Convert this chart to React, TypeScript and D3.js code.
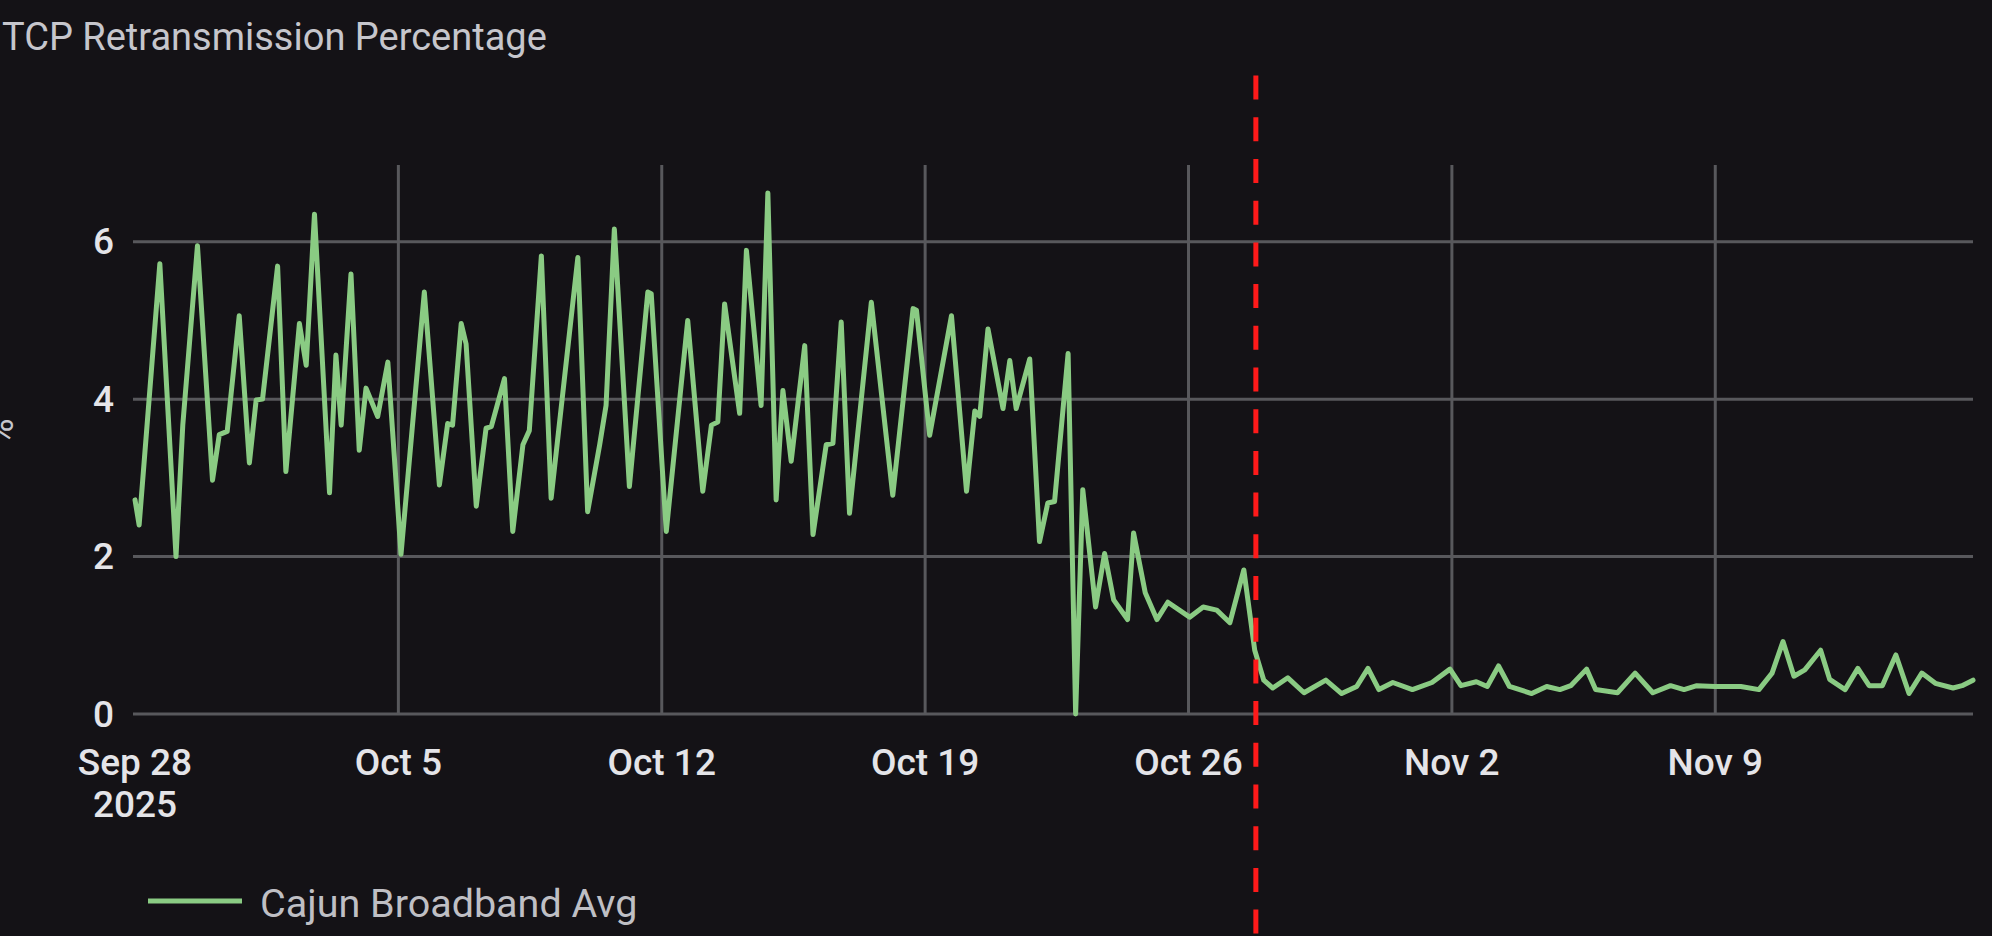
import React from "react";
import * as d3 from "d3";

// days since Sep 28 2025 00:00 at each visible vertex
const dayOffsets = [
  0, 0.11, 0.66, 1.09, 1.27, 1.66, 2.06, 2.24, 2.45, 2.77, 3.04, 3.22, 3.39, 3.79, 4.01, 4.37, 4.55, 4.77,
  5.17, 5.34, 5.48, 5.74, 5.96, 6.14, 6.45, 6.72, 7.07, 7.69, 8.09, 8.31, 8.44, 8.67, 8.8, 9.07, 9.33, 9.47,
  9.82, 10.04, 10.31, 10.48, 10.8, 11.06, 11.77, 12.03, 12.35, 12.52, 12.74, 13.14, 13.63, 13.72, 14.12,
  14.69, 15.09, 15.32, 15.49, 15.67, 16.07, 16.25, 16.64, 16.82, 17.04, 17.22, 17.44, 17.8, 18.02, 18.37,
  18.55, 18.77, 18.99, 19.57, 20.14, 20.68, 20.77, 21.12, 21.7, 22.1, 22.32, 22.45, 22.67, 23.07, 23.25,
  23.42, 23.78, 24.04, 24.26, 24.44, 24.8, 25.0, 25.19, 25.53, 25.77, 26.01, 26.38, 26.54, 26.85, 27.16,
  27.45, 28.03, 28.39, 28.75, 29.1, 29.47, 29.76, 30.0, 30.24, 30.64, 31.07, 31.65, 32.07, 32.47, 32.77,
  33.06, 33.43, 33.95, 34.47, 34.95, 35.24, 35.65, 35.94, 36.24, 36.53, 37.12, 37.52, 37.87, 38.16, 38.58,
  38.82, 39.4, 39.87, 40.34, 40.81, 41.17, 41.51, 41.99, 42.68, 43.16, 43.51, 43.8, 44.09, 44.38, 44.8,
  45.04, 45.45, 45.79, 46.09, 46.44, 46.8, 47.15, 47.49, 47.85, 48.32, 48.56, 48.85,
];

const retransPct = [
  2.72, 2.4, 5.72, 2.0, 3.67, 5.95, 2.97, 3.55, 3.59, 5.06, 3.19, 3.99, 4.0, 5.69, 3.08, 4.96, 4.43, 6.35,
  2.81, 4.56, 3.67, 5.59, 3.35, 4.14, 3.78, 4.47, 2.03, 5.36, 2.91, 3.69, 3.67, 4.96, 4.7, 2.64, 3.63, 3.65,
  4.26, 2.32, 3.42, 3.6, 5.82, 2.74, 5.8, 2.57, 3.42, 3.92, 6.16, 2.89, 5.36, 5.34, 2.32,
  5.0, 2.83, 3.67, 3.71, 5.21, 3.82, 5.89, 3.92, 6.62, 2.72, 4.11, 3.21, 4.68, 2.28, 3.42,
  3.44, 4.98, 2.55, 5.23, 2.78, 5.15, 5.13, 3.54, 5.06, 2.83, 3.85, 3.78, 4.89, 3.88, 4.49,
  3.88, 4.51, 2.19, 2.68, 2.7, 4.58, 0, 2.85, 1.36, 2.04, 1.45, 1.2, 2.3, 1.54, 1.2,
  1.42, 1.23, 1.36, 1.32, 1.16, 1.83, 0.81, 0.43, 0.33, 0.46, 0.27, 0.43, 0.26, 0.35, 0.58,
  0.31, 0.4, 0.31, 0.4, 0.57, 0.36, 0.41, 0.35, 0.61, 0.35, 0.26, 0.35, 0.31, 0.36, 0.57,
  0.31, 0.27, 0.52, 0.27, 0.36, 0.31, 0.36, 0.35, 0.35, 0.31, 0.52, 0.92, 0.48, 0.56, 0.81,
  0.44, 0.31, 0.58, 0.36, 0.36, 0.75, 0.26, 0.52, 0.39, 0.33, 0.36, 0.43,
];

const yTicks = [0, 2, 4, 6];
const seriesName = "Cajun Broadband Avg";
const chartTitle = "TCP Retransmission Percentage";
const markerDay = 29.79;

const W = 1992;
const H = 936;
const DAY = 86400000;
const start = new Date(2025, 8, 28);
const toDate = (d: number) => new Date(start.getTime() + d * DAY);

const bg = "#141216";
const grid = "#58585c";
const green = "#8acb83";
const font = "Roboto, 'Open Sans', sans-serif";

export default function App() {
  const x = d3
    .scaleTime()
    .domain([start, toDate(48.85)])
    .range([135, 1973]);
  const y = d3.scaleLinear().domain([0, 7]).range([714, 163]);

  const pts = dayOffsets.map((d, i) => ({ t: toDate(d), v: retransPct[i] }));
  const line = d3
    .line<{ t: Date; v: number }>()
    .x((d) => x(d.t))
    .y((d) => y(d.v));

  const weeks = x.ticks(d3.timeWeek.every(1) as any);
  const fmt = d3.timeFormat("%b %-d");
  const mx = x(toDate(markerDay));

  return (
    <div style={{ position: "fixed", left: 0, top: 0, width: W, height: H, background: bg }}>
      <svg width={W} height={H} style={{ display: "block" }}>
        <rect width={W} height={H} fill={bg} />
        <text x={2} y={50} fontFamily={font} fontSize={38} fill="#c6c6cc">
          {chartTitle}
        </text>

        {weeks.map((w, i) =>
          i === 0 ? null : (
            <line key={"v" + i} x1={x(w)} x2={x(w)} y1={165} y2={y(0)} stroke={grid} strokeWidth={3} />
          )
        )}
        {yTicks.map((t) => (
          <line key={"h" + t} x1={133} x2={1973} y1={y(t)} y2={y(t)} stroke={grid} strokeWidth={3} />
        ))}

        {yTicks.map((t) => (
          <text
            key={"yl" + t}
            x={114}
            y={y(t)}
            textAnchor="end"
            dominantBaseline="central"
            fontFamily={font}
            fontSize={37}
            fontWeight={500}
            fill="#e4e4e8"
          >
            {t}
          </text>
        ))}
        <text
          transform={`translate(13,432) rotate(-90)`}
          textAnchor="middle"
          fontFamily={font}
          fontSize={37}
          fill="#c6c6cc"
        >
          %
        </text>

        {weeks.map((w, i) => (
          <text
            key={"xl" + i}
            x={x(w)}
            y={775}
            textAnchor="middle"
            fontFamily={font}
            fontSize={37}
            fontWeight={500}
            fill="#e4e4e8"
          >
            {fmt(w)}
            {i === 0 ? (
              <tspan x={x(w)} dy={42}>
                {w.getFullYear()}
              </tspan>
            ) : null}
          </text>
        ))}

        <path
          d={line(pts) || ""}
          fill="none"
          stroke={green}
          strokeWidth={5}
          strokeLinejoin="round"
          strokeLinecap="round"
        />

        <line x1={148} x2={242} y1={901} y2={901} stroke={green} strokeWidth={5} />
        <text x={260} y={917} fontFamily={font} fontSize={39.5} fill="#bfbfc4">
          {seriesName}
        </text>

        <line
          x1={mx}
          x2={mx}
          y1={75.6}
          y2={H}
          stroke="#ff1a1a"
          strokeWidth={5}
          strokeDasharray="24 17.7"
        />
      </svg>
    </div>
  );
}
